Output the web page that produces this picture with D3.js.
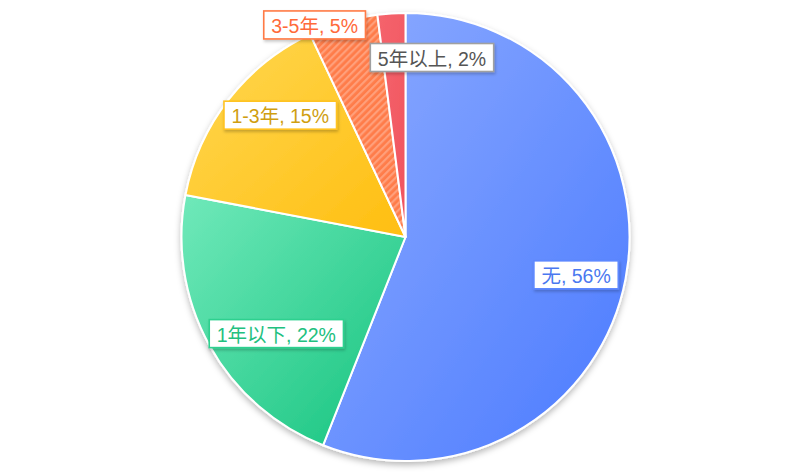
<!DOCTYPE html>
<html>
<head>
<meta charset="utf-8">
<script src="https://cdn.jsdelivr.net/npm/d3@7/dist/d3.min.js"></script>
<style>
html,body{margin:0;padding:0;background:#fff;}
svg{display:block;}
</style>
</head>
<body>
<svg id="chart" width="800" height="472"></svg>
<script>
// ---- data ----
const categories = ["无", "1年以下", "1-3年", "3-5年", "5年以上"];
const values = [56, 22, 15, 5, 2];
const labels = ["无, 56%", "1年以下, 22%", "1-3年, 15%", "3-5年, 5%", "5年以上, 2%"];

// ---- styles / layout ----
const fillStops = [
  ["#8dabff", "#4a7aff"],
  ["#70e9ba", "#14c37e"],
  ["#ffd852", "#ffbe10"],
  null,
  ["#f5646d", "#f0545e"]
];
const borderColors = ["#5d88ff", "#2fd08f", "#ffc322", "#ff7a45", "#a0a0a0"];
const textColors = ["#4a78f0", "#22c07f", "#d09e10", "#ff6a3a", "#555555"];
// label placement: radius fraction and angular nudge (degrees)
const labelLayout = [
  {k: 0.78, dA: 1.7},
  {k: 0.72, dA: -8},
  {k: 0.78, dA: 6.4},
  {k: 1.03, dA: -7},
  {k: 0.81, dA: 12}
];

const W = 800, H = 472;
const cx = 405.5, cy = 237, R = 224;

const svg = d3.select("#chart");
const defs = svg.append("defs");

// gradients
fillStops.forEach((s, i) => {
  if (!s) return;
  const g = defs.append("linearGradient").attr("id", "grad" + i)
    .attr("x1", "0%").attr("y1", "0%").attr("x2", "100%").attr("y2", "100%");
  g.append("stop").attr("offset", "0%").attr("stop-color", s[0]);
  g.append("stop").attr("offset", "100%").attr("stop-color", s[1]);
});
// hatch pattern
const pat = defs.append("pattern").attr("id", "hatch")
  .attr("patternUnits", "userSpaceOnUse").attr("width", 5).attr("height", 5)
  .attr("patternTransform", "rotate(45)");
pat.append("rect").attr("width", 5).attr("height", 5).attr("fill", "#ff7c4a");
pat.append("rect").attr("x", 0).attr("width", 2.2).attr("height", 5).attr("fill", "#ff9f7a");

// shadow filters
const f = defs.append("filter").attr("id", "pieShadow")
  .attr("x", "-10%").attr("y", "-10%").attr("width", "120%").attr("height", "125%");
f.append("feDropShadow").attr("dx", 0).attr("dy", 3).attr("stdDeviation", 3)
  .attr("flood-color", "#000").attr("flood-opacity", 0.28);
const f2 = defs.append("filter").attr("id", "boxShadow")
  .attr("x", "-20%").attr("y", "-40%").attr("width", "140%").attr("height", "190%");
f2.append("feDropShadow").attr("dx", 1).attr("dy", 2).attr("stdDeviation", 1.5)
  .attr("flood-color", "#000").attr("flood-opacity", 0.22);

const pie = d3.pie().sort(null).value(d => d);
const arcs = pie(values);
const arc = d3.arc().innerRadius(0).outerRadius(R);

const g = svg.append("g").attr("transform", `translate(${cx},${cy})`);
const slices = g.append("g").attr("filter", "url(#pieShadow)");
slices.selectAll("path").data(arcs).enter().append("path")
  .attr("d", arc)
  .attr("fill", (d, i) => fillStops[i] ? `url(#grad${i})` : "url(#hatch)")
  .attr("stroke", "#fff")
  .attr("stroke-width", 2)
  .attr("stroke-linejoin", "round");

// labels
const fontFamily = "'Liberation Sans', Arial, 'Noto Sans CJK SC', sans-serif";
const lg = g.append("g");
arcs.forEach((d, i) => {
  const mid = (d.startAngle + d.endAngle) / 2 + labelLayout[i].dA * Math.PI / 180;
  const r = R * labelLayout[i].k;
  const x = Math.sin(mid) * r;
  const y = -Math.cos(mid) * r;
  const grp = lg.append("g").attr("transform", `translate(${x},${y})`);
  const t = grp.append("text")
    .attr("text-anchor", "middle")
    .attr("dominant-baseline", "central")
    .attr("font-family", fontFamily)
    .attr("font-size", 19.5)
    .attr("fill", textColors[i])
    .text(labels[i]);
  const bb = t.node().getBBox();
  const padX = 7.5, h = 28;
  grp.insert("rect", "text")
    .attr("x", -bb.width / 2 - padX)
    .attr("y", -h / 2)
    .attr("width", bb.width + padX * 2)
    .attr("height", h)
    .attr("fill", "#fff")
    .attr("stroke", borderColors[i])
    .attr("stroke-width", 1.6)
    .attr("filter", "url(#boxShadow)");
  t.attr("y", 1);
});
</script>
</body>
</html>
